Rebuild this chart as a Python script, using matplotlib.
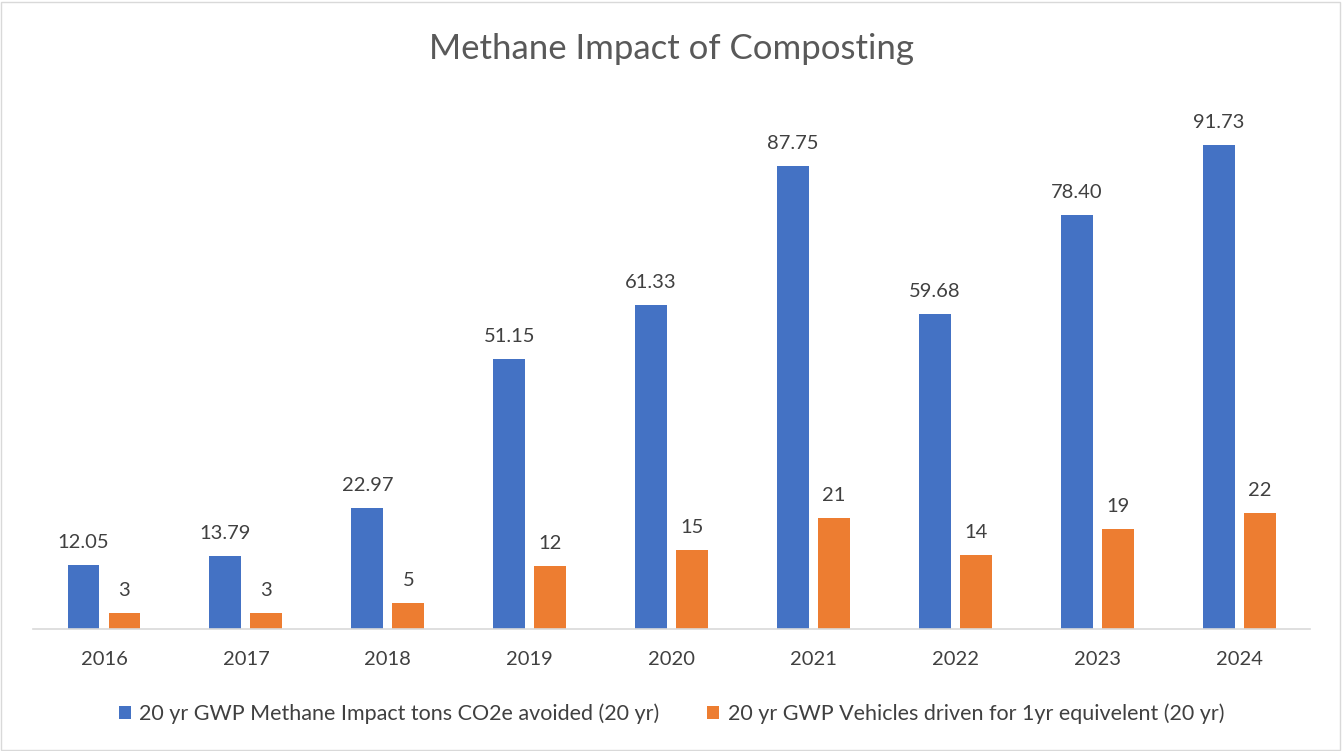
import matplotlib.pyplot as plt
import matplotlib.patches as mpatches
import numpy as np

years = ["2016", "2017", "2018", "2019", "2020", "2021", "2022", "2023", "2024"]
methane_tons = [12.05, 13.79, 22.97, 51.15, 61.33, 87.75, 59.68, 78.40, 91.73]
vehicles = [3, 3, 5, 12, 15, 21, 14, 19, 22]

series_names = [
    "20 yr GWP Methane Impact tons CO2e avoided (20 yr)",
    "20 yr GWP Vehicles driven for 1yr equivelent (20 yr)",
]

BLUE = "#4472C4"
ORANGE = "#ED7D31"
TEXT = "#404040"
TITLE = "#595959"
GRID = "#D9D9D9"

plt.rcParams["font.family"] = ["Lato", "DejaVu Sans"]

fig = plt.figure(figsize=(13.43, 7.51), dpi=100)
ax = fig.add_axes([0.0246, 0.1625, 0.951, 0.703])

x = np.arange(len(years))
w = 0.225
off = 0.1445
b1 = ax.bar(x - off, methane_tons, w, color=BLUE, label=series_names[0])
b2 = ax.bar(x + off, vehicles, w, color=ORANGE, label=series_names[1])

for rect, v in zip(b1, methane_tons):
    ax.annotate(f"{v:.2f}", (rect.get_x() + rect.get_width() / 2, v),
                xytext=(0, 10), textcoords="offset points",
                ha="center", va="bottom", fontsize=14.5, color=TEXT)
for rect, v in zip(b2, vehicles):
    ax.annotate(f"{v}", (rect.get_x() + rect.get_width() / 2, v),
                xytext=(0, 10), textcoords="offset points",
                ha="center", va="bottom", fontsize=14.5, color=TEXT)

ax.set_xlim(-0.5, len(years) - 0.5)
ax.set_ylim(0, 100)
ax.set_xticks(x)
ax.set_xticklabels(years, fontsize=14.5, color=TEXT)
ax.set_yticks([])
ax.tick_params(axis="x", length=0, pad=16)
for s in ["top", "left", "right"]:
    ax.spines[s].set_visible(False)
ax.spines["bottom"].set_color(GRID)
ax.spines["bottom"].set_linewidth(1.2)

fig.text(0.5, 0.935, "Methane Impact of Composting", ha="center", va="center",
         fontsize=25, color=TITLE)

fig.legend(handles=[b1, b2], loc="center", bbox_to_anchor=(0.5, 0.05), ncol=2,
           frameon=False, fontsize=15.5, labelcolor=TEXT, handlelength=0.55,
           handleheight=0.55, handletextpad=0.4, columnspacing=2.2)

fig.patches.append(mpatches.Rectangle((0.001, 0.001), 0.997, 0.997, transform=fig.transFigure,
                                      fill=False, edgecolor=GRID, linewidth=1))

fig.savefig("out.png", dpi=100)
